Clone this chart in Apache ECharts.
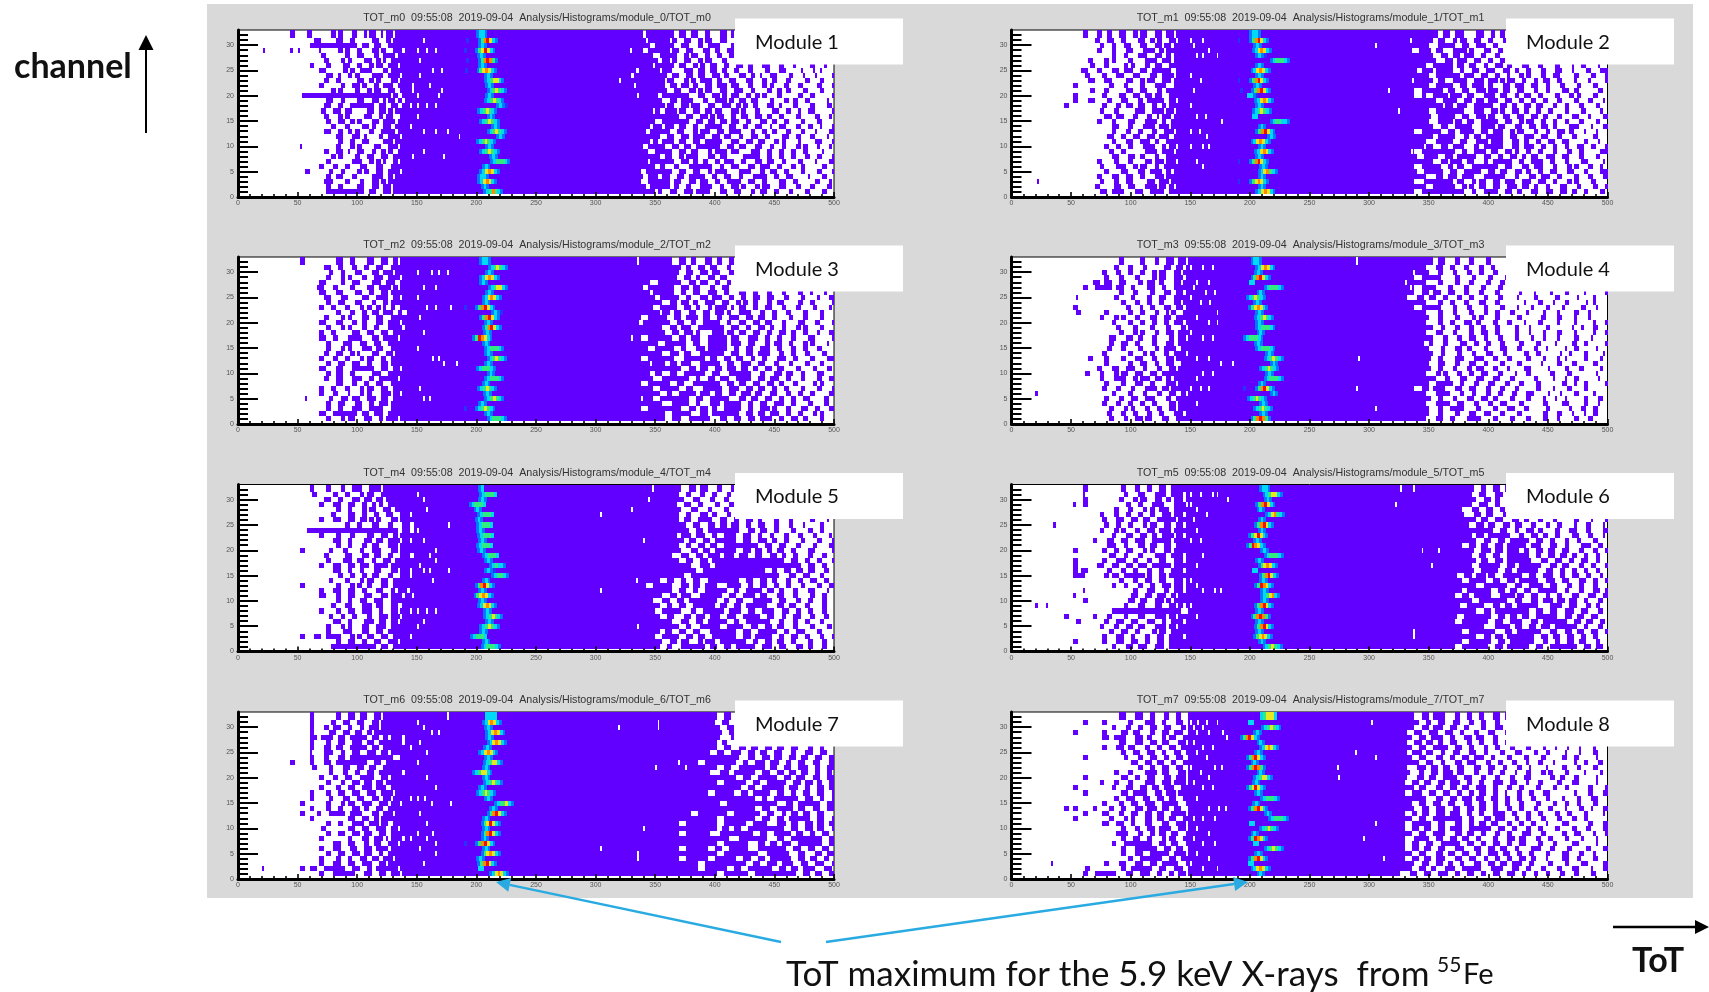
<!DOCTYPE html>
<html>
<head>
<meta charset="utf-8">
<style>
html,body{margin:0;padding:0;background:#fff}
#chart,#notes{position:absolute;left:0;top:0;width:1709px;height:992px}
#chart{filter:blur(.55px)}
</style>
<script src="https://cdn.jsdelivr.net/npm/echarts@6/dist/echarts.min.js"></script>
</head>
<body>
<div id="chart"></div>
<div id="notes"></div>
<script>
// occupancy, rows listed channel 32 down to channel 1
// Left: hex digits from ToT 44, Right: hex digits from ToT 320, each digit is 4 bins of 2 ToT
var module1Left = ['c1806c3172eff','00381c6038dff','00fffff39c7ff','90080d8c3b1ef','0006018e19f7f','000306c1cd3ff','00c1838c6e7bf','000e0367c1bff','0001c8d83e7df','0003180e6c3bf','000c063b19e7e','00006c18dc73e','07ffffffffd9f','0001c60e3976f','00038c7fe739d','000639c0e76ff','00030d81c6e3f','00018e6c39f7f','00006183b1cfd','00038cd863f7f','00001c39067df','00000c6381eff','0800186c1c7bf','00031c8e3367f','00006c18e39fe','0001803c6d1bf','000c31870e3ff','0300c60d8e7df','00019c303e6ff','0003c1863b7ff','00018c0e39dff','0001fffe71dff'];
var module1Right = ['ffdffe738c39','ffeffb1c6e38','fff9fe3867c1','ffcffb8e1cc7','fffc7f1b8c63','ffff3b1c6e18','fffdfe71b38c730e1840c2103','feffbc1e7398c3061c0848102','fbfff38e71cc3991c18420610','ffffee1b3e63870cc3030c084','fdffe7398e79c30d86181860','fffff1c76e38f18333060c108','ffff3ff871d9c66c3018c0420','ffffc73e18fb39c18663010c2','ffffee3bc71e6cc39060c1841','fffd9f71cee1d860e311c0620','ffffff8e3b719c7318303080c','fffe3ff8e739c61cc60c18108','fffbde718fe38c711c3188410','ffe7f8e1bc73e18cc30c20c06','ffff8e39f1ce31c60e30c1081','fffb3e71cfe1c7386c1038420','ffcfe39cffc738718c3610830','fff1fc7386f9c1e318c604108','ffff9c6f87380fe318c31860','fff7fe3998cf18738c1820c10','fffe6187fe31c39e30cc06081','ff9ffc71c6f83e19c60c18410','ffcf38e7f18e30fc638106084','ff8ff9c738c7e38c1c603081','ffe7f98c3e31d86e1c30c1840','fffec71efc38e19c6183060c8'];
var module1Peaks = [[201,'2332'],[193,'10002467532'],[203,'232'],[191,'10002457532'],[202,'232'],[193,'10002467642'],[203,'232'],[192,'10002456532'],[208,'232'],[208,'2345532'],[209,'232'],[210,'2345432'],[209,'232'],[208,'2345432'],[218,'2321'],[202,'2345432'],[210,'232'],[204,'2345432'],[214,'232'],[210,'2345432'],[218,'232'],[201,'2345432'],[209,'232'],[204,'2345432'],[212,'232'],[213,'2344432'],[206,'232'],[204,'2356532'],[202,'2332'],[202,'2356532'],[205,'232'],[207,'2346432']];
var module1Specks = [[21,29,0],[320,23,8],[329,29,8],[335,20,8],[155,31,8],[150,29,8],[158,29,8],[165,29,8],[152,27,8],[163,25,8],[170,25,8],[152,24,8],[160,22,8],[170,21,8],[150,20,8],[168,20,8],[150,18,8],[158,18,8],[165,18,8],[150,16,8],[155,13,8],[165,13,8],[175,13,8],[185,12,8],[155,9,8],[172,8,8]];

var module2Left = ['00c331c6e39df','000638c1cd8ef','00018c70e3bbf','00030c387cdff','00000c61e39bf','00306c183e7bf','0018606c338ff','01c30e78e7f9f','0060c3870e7df','00387038dc7bf','0c001860c3e3f','00186038e19ff','0c00c1c73b8ff','0c3830e19fcef','c000c339c66ff','00018603c7ddf','00007386197bf','00030c1c3e67f','00000e187cf7f','00000c31863df','000038c71cf3f','00000c38f31ff','000063187c6ef','000018c03e7df','00000e1cc31ff','000306183bdef','000183c6e33ff','000060e1cf9bf','00030e38c3dff','000186381cf7f','0006071c3eedf','0001cf838fcff'];
var module2Right = ['ffffe73c1c66','feff9c6e38c3','fffe1fc71e30','ff1f387ec38c','ffff8e73c618','ffffc39e38c6','fffc7f9ce31cc3860c1182040','ffcfbf8c71e398c30e1061c08','fffe3ff3c71886c31c0c18410','ffff9c7e3cf6e319c6082060','fffe3f8e7cc39e38c3060c084','ff8ff9c71ef38e18c1cc03081','ff8c7ef9c3e719c60c360c108','ffffc7e39cf1c631860c30841','fffffb9e3fc731ce18c30610','fffe3ffc3c76398c60c181042','ffff1fc71ee38e39861c20c30','fffe1fb9c7f1c6e318c306108','ffff8e3f87ee1c73983c10c84','ff8ff1cfc73c6e18c730840c1','ffff9fc339fc71e386180c306','fffc3f8e1f7c398c71c0c2184','fffb8e7c33fc39e318c718408','ff8fffc63e71d8c6186301c82','ffc7e39fe38c7338f1c306104','ffff8ef9c33fc63e30c1c0841','ff8ff19c7ff1c39e186c31082','ffc7f8e3f8e71cc63870c1c10','fffc39e7c3fe1873c60c30c18','ff87ff9c6e39e3c7186c18308','fffc7fc6ce38f398c3860c610','ff8ffffc63f1cc38e398c1840'];
var module2Peaks = [[201,'2332'],[191,'10002467532'],[204,'232'],[203,'2356532'],[206,'2321'],[218,'2344432'],[206,'232'],[202,'2356532'],[206,'232'],[191,'10002467532'],[204,'232'],[193,'10002467532'],[199,'3321'],[205,'2356532'],[206,'232'],[203,'2345432'],[203,'33'],[218,'2344332'],[208,'232'],[206,'2467532'],[216,'232'],[202,'2356532'],[208,'232'],[205,'2356532'],[206,'232'],[191,'10002467532'],[209,'232'],[208,'2356432'],[208,'232'],[191,'10002456532'],[208,'232'],[206,'2356532']];
var module2Specks = [[305,30,8],[316,21,8],[324,17,8],[336,23,8],[21,3,0],[335,9,8],[340,9,8],[172,28,8],[176,15,8],[150,31,8],[160,31,8],[152,30,8],[165,29,8],[155,28,8],[160,28,8],[150,24,8],[158,23,8],[152,21,8],[150,18,8],[155,16,8],[162,16,8],[150,13,8],[157,13,8],[163,12,8],[150,10,8],[160,10,8],[165,10,8],[155,7,8],[160,6,8]];

var module3Left = ['0c001c60e39bf','00038c318e3ff','0000c61c39eff','000186c31e7df','000e06383cf3f','001c3060e7dbf','000e1c1c63bff','000387038f9df','00018e1c31bff','000c6186cd33f','0000186339e67','000306c38e3ff','000e1c330e7df','000186c3187ef','000c6038e39ff','000e30fc39fbf','000183c71c7ff','000186c3ce3ff','00031c6838eff','000c3186e33ff','00018e38c3bff','000e1c3fe39df','00019c603c7ff','00031c3c67fbf','00001c318e3ff','000c6186e39ff','000c3086c3ddf','0200c738f39ff','00018e1c67bff','00018c3c7e3ff','000e3ff39e7ff','000186e1c6fbf'];
var module3Right = ['fffffc730e63','ffffffcc7386','ffffff8e39c3','ffffff1cc738','fff8ffc738c6','ffcffe39c31c','fffbfe31c78c38c30c1882040','fffe7f8c39e318e3860c10c08','ffffc7398f1c6cc33818c0420','fffc7f1cc6f938c70c3060841','ffffb9c71cf63e18c3060c108','ff8ff1cf9c63c738c1860c304','ff3ff8e31fc638e70c1c30410','ffffc73c7ff1c6398c360c082','ffffe39ec1f738e31cc610c08','ff8ffc73c7f9c3c630c1c0610','ffff1ff1c7f9e3867186c1041','fff1fe30f7f8c71e30c6180c8','ffffc79c3ff1c73e18c306084','ff8ffe1ff38e718c3c60c1c10','ffffe73c3fc71e3861830c086','ffffffc738e79cc7383061840','fff9c71ff1c3fe18738c1c108','fffc3ff8c73c7e39e30c18c04','ff8ff8e1ffc738e398606c0c1','fffc7f8e1fe3c738c60c186c0','ffff8c7f3ce39e71c318c0c60','fffc7ff8e3fc39c718c7030c1','ffffc3f8c3cfe31c78c183080','ff8fffc7398fe31ec30e30c18','ffffe3fc39ffc739e3186c308','ffffe3c7fc38e39f18e60c108'];
var module3Peaks = [[204,'2332'],[211,'2345432'],[209,'232'],[204,'2356532'],[204,'232'],[211,'2345532'],[209,'232'],[206,'2356532'],[206,'232'],[191,'10002467532'],[214,'2321'],[204,'2467532'],[208,'232'],[206,'2467532'],[207,'232'],[198,'2476532'],[206,'232'],[208,'2344432'],[208,'232'],[210,'2345432'],[208,'232'],[201,'2344432'],[210,'232'],[208,'2344432'],[206,'232'],[202,'2345432'],[207,'232'],[208,'2345432'],[203,'232'],[191,'10002345432'],[208,'232'],[210,'2344432']];
var module3Specks = [[330,17,8],[335,32,8],[346,12,8],[338,5,8],[175,30,8],[178,23,8],[172,12,8],[183,12,8],[150,30,8],[162,30,8],[168,30,8],[155,27,8],[165,27,8],[150,25,8],[158,23,8],[165,23,8],[152,21,8],[155,18,8],[150,15,8],[163,13,8],[168,13,8],[155,5,8],[160,5,8],[152,7,8]];

var module4Left = ['00000180c31ce','000006186039d','0000c318c6e3b','0000618306e3d','000e71c19cc3b','00c7f38c1c63f','000001860c39d','0400060c18e3f','000000c318c3b','0c0000308c39d','06006018c3163','000186c30e39f','00000c18c633d','000003060c186','00000186c31cf','00001c39860ce','000018e3061cf','000030c1833e7','0000c0186c33e','003060c3861df','00006018e31c7','00030e3c618ef','006186e38e7ff','000187c6f39bf','000060c38c1ef','0000c30c3e77f','00000c18618e6','0000618e3c19f','0000c318c60ef','0000186c318ef','000030c618c3d','00001863b871f'];
var module4Right = ['ffff9c30c180','fffc38c30c60','fffe18618c30','ff8ff03060c1','fffc1830c186','ff8fc183060c','ff8e71c30c18041020c080410','fc39c618c30c08180c0408102','fffc18c30e18010610c04820','ff8ff06183060820c10184008','fffc1860c3186081040c20104','fffe18306c180c0306082008','fffc18c39830c106040808402','ffff8c30c6181840c0110c004','fffc3860c71818410608084','ffff8618e30c1821040c10208','fff9860e3186060c0818c0402','fffe0c3983070c18808c04010','ffff8c1861c3018c0220c0806','ffff183c3c30c0c10480c1004','fffe1c30e3060c0206180c208','ffff18619c3081c040c301008','fffc3618c70c10c0306004082','ffffc30e1c386018108c02040','fffe3f8c30e1860c0188c0410','ff8e7c38e186180c1060c0204','fffc3f0c618c30e0420c08102','ffff1861c73060c10880c3008','fffc3f1c30c7060181c0c2040','fffe18fc1830e180c0218c041','fffe1830e3860c0186108c020','fffc38c1f83060c1840c30204'];
var module4Peaks = [[202,'2332'],[206,'2356532'],[205,'232'],[202,'2467532'],[201,'33'],[213,'2344432'],[207,'232'],[198,'2345432'],[204,'232'],[200,'2456532'],[206,'232'],[205,'2345432'],[206,'232'],[206,'2344432'],[207,'232'],[196,'2344432'],[205,'232'],[206,'2344432'],[214,'232'],[213,'2345432'],[218,'232'],[209,'2345432'],[214,'232'],[213,'2344432'],[208,'232'],[196,'10002467532'],[218,'232'],[199,'2345432'],[209,'232'],[204,'2345432'],[209,'232'],[202,'2467642']];
var module4Specks = [[20,6,0],[289,32,8],[291,13,8],[289,7,8],[305,3,8],[337,30,8],[330,28,8],[334,27,8],[175,12,8],[185,12,8],[150,31,8],[160,31,8],[168,31,8],[155,28,8],[165,28,8],[152,27,8],[162,26,8],[170,26,8],[150,25,8],[158,24,8],[166,24,8],[172,22,8],[155,21,8],[165,20,8],[172,20,8],[150,18,8],[160,17,8],[168,17,8],[155,13,8],[165,13,8],[160,10,8],[168,10,8],[155,9,8],[150,7,8],[158,7,8],[165,7,8],[155,4,8]];

var module5Left = ['00c1863c7dfff','00603186e3fff','00038c39cefff','000c38e3367ff','000018c371cff','000060e318e3d','000c38e76c3bf','0000018c3861c','01fffffffff9c','000c1860e39bf','000038c1ce7dd','000018c3387bf','0c00c3063c3bf','000301c39c63c','000183ce31cff','000c38e79fbff','000038c61c3bd','00000c633863d','0000c186e39ff','0c00186cc39ff','000c38e30e37b','000e18e1c3bee','000018c71e3ff','000061c3ce39f','000c18e3c63bd','0000c630c7bdf','000038c1e73bf','000186c38f3ff','000183c38e7ff','0c39f86ce39fd','000018e31c7bf','00007ffff39ff'];
var module5Right = ['ffffffc73861','ffffff8c3186','ffffffe1c30c','ffffff1c60c3','ffffffc3860c','ffffff8c3986','ffffff9c7e38c7306180c1040','fffffff1c739c63861840c108','fffffff8e7ffc39c60c18c208','ffffff3cf18f8e3186186084','ffffffe71cff8e3cc60c18410','ffffff8c738fffc71c3060c08','ffffffc39cff8e7338c1c0410','fffffc38e7cf3c71cc61860c0','ffffff8e39fffffff8e318608','fffffffc3cfffffffff1c630','ffffffff1ffffff8c739c3081','ffffffe3ffffffffe1c70c108','ffff8e31c7ffc71cc318e3040','ffe3fc39cf87e31c630c18c04','fffffc718ff8c7f39861c1082','ffffc73c3fe38f9c3860c6108','fffc38e7ff8c70ff1c3186041','ffff8c71ff38e7fc39c306082','fffe3fc31ff3e38f8e31860c1','ffff8e1cf3c78fe38c70c3084','fffffc38e7f8c7fe18630c108','ffffff8c3fc7f1c73860c1842','ffff9c71c3ff8e3fc63c18108','fffe3f8e71ff8e7f18e30c604','ffffc7386f3ff8c738c1860c1','ffff8c3ff38e7f8f1c3986082'];
var module5Peaks = [[203,'23'],[204,'234443'],[203,'232'],[195,'234443'],[199,'232'],[202,'234443'],[200,'232'],[201,'234443'],[201,'232'],[202,'234443'],[203,'232'],[201,'234443'],[202,'232'],[206,'234443'],[208,'232'],[212,'234332'],[208,'2321'],[214,'234432'],[206,'232'],[200,'2467532'],[203,'232'],[199,'2456532'],[203,'232'],[202,'2356532'],[207,'232'],[207,'2345432'],[209,'232'],[204,'2345432'],[204,'232'],[196,'234443'],[206,'232'],[205,'2344432']];
var module5Specks = [[176,25,8],[176,16,8],[304,27,8],[304,12,8],[344,30,8],[330,28,8],[347,32,8],[335,5,8],[334,14,8],[340,22,8],[150,31,8],[155,30,8],[158,28,8],[150,24,8],[155,22,8],[165,20,8],[160,19,8],[165,18,8],[152,17,8],[155,16,8],[160,16,8],[163,14,8],[150,8,8],[158,8,8],[165,8,8],[155,6,8],[150,5,8]];

var module6Left = ['00c000c318e7f','00800061c3e7d','00c00186e39bd','08c0003187c3e','000006186cf3f','000186318c7bd','0000c38e71fef','000063186e39d','000186c31cfbf','00000c38e67dd','000c38e3c7fbf','00003c61ce39f','0c00c6386c3bf','00001c6183e7d','0c00c3c618e3d','0c038e39e7fbf','0dc030c618c7d','0f806e7fd8eff','0000018638e3d','00000c618c7bd','008000061c33d','0800000e39e6f','00c0001ce3dbf','00000061c38ed','00000fffffff8','c00c3061c3eef','0600638e1c67d','00018639c3eef','000018e306e7f','0000c38c31cfd','0c00c38e31cff','00000c39e3cff'];
var module6Right = ['ffffffffc639','ffffffff8e1c','ffffffffe398','ffffffff8f18','fffffff871c6','fffffffc39c3','ffffffffe71c3986180c10420','ffffffff1ce39c30c6086082','ffffffffffc718e60c3860c10','ffffffff9cff86398c1c30841','ffffffffe38e7f8e30c60c108','fffffff8e71cff3c38c1e3061','ffffffffc79cf98e71c30c608','ffffffff8e38ff8c7398c6082','ffffffffe71cffc38e31c6108','ffffffff8ff8e7fc39c31860','ffffffffc7f1cff8e318c6104','ffffffe39ee3fc71e31c61082','fffffff8fe38e7f8f1c38c610','ffffffffe3ff1c7e38630c184','fffffff9ff8e71c7f8c30e708','ffffffc73f87ee38c61c38c10','ffffffff8fff1c39e738c3061','fffffff1fc39cff83e3866082','ffffffffe39fff8e38f1c3086','ffffffe3ff8e738ff8e71c308','ffffffc7ff1c7c39ff8e71860','fffffffffc1f9c73cff8c3184','fffffff8ffe1cffc38e71c610','ffffffffe39cffe39c718c308','fffffff8ff8e7fe18c7386182','ffffffc7ff1cff8e3ff8e7308'];
var module6Peaks = [[209,'2332'],[212,'2345532'],[213,'232'],[206,'2467532'],[207,'232'],[214,'2356432'],[208,'232'],[205,'2467532'],[208,'232'],[200,'2457532'],[204,'232'],[198,'2476532'],[210,'232'],[213,'2344432'],[206,'232'],[208,'2456532'],[203,'33'],[209,'2467532'],[209,'232'],[205,'2476532'],[210,'232'],[210,'2345632'],[210,'232'],[205,'2467532'],[206,'232'],[202,'2467642'],[206,'232'],[205,'2467532'],[206,'232'],[204,'2456532'],[208,'232'],[212,'2345432']];
var module6Specks = [[326,32,8],[337,32,8],[322,29,8],[344,20,8],[337,4,8],[337,3,8],[20,9,0],[29,9,0],[35,25,0],[168,31,8],[172,31,8],[181,30,8],[170,12,8],[175,12,8],[352,17,8],[358,20,8],[150,31,8],[158,31,8],[150,29,8],[155,28,8],[163,27,8],[152,26,8],[155,24,8],[150,22,8],[158,22,8],[160,19,8],[155,17,8],[150,14,8],[155,13,8],[160,12,8],[150,9,8],[155,7,8]];

var module7Left = ['00c018e71dfff','00c0638e3bfff','00c338c67bfff','00c0e39cdffff','00e7ce7f39bef','00c18e3ce7fef','00c39c7f39ffd','0083c638f3bff','00c30e7fffe3f','c0c39fff1cfff','0060c38e71fff','0000c318e7fef','000c31c7e3bff','00018639cefff','000c18e3cf3ff','00c18e38f3eff','00c0c38e39dfd','0c0186e3c7bdf','00c18c398e7ff','0c18fe7c39eff','00c000e39bfff','00018c3e7b9ff','000600e38f3bf','00018e39c73ff','000c00c39ebed','000038e19c7bf','000c3871cfbff','00018e39c67ff','000c18c739eff','000c38e3c77ff','0ce3fe38cffbf','000c3fe1c73df'];
var module7Right = ['ffffffffff8e','ffffffffff1c','ffffffffffc7','ffffffffffe3','ffffffffffc1','ffffffffff98','ffffffffff8e39c738e18c308','fffffffffc71e39c70c38e18','ffffffffffffc38e71ce38c61','ffffffff8fff8c79e31c70c38','ffffffffff8e3ff9c71e31c61','fffffffffc3cff8e39ce318c3','ffffffffffff8e3fc73c71e38','ffffffffff8ff8e3fc7398e31','ffffffffffffe38ff9e31ce38','fffffffff8ff1cfe38c71c618','ffffffffffffff8c7fe38c739','ffffffffffc7ffffc39ff1c61','ffffffffffffff8e3f9c71e38','fffffffc7ff8ffe38ce71c39','ffffffffff8fff8e39ff1c738','ffffff8fff8ff8fc3ce39ce30','ffffffffff9ce3fff8e39c718','ffffff8ffc3fff1c7f38c71c3','fffffffffffc3ffc38fff8e38','ffffffffff8ffc39cf1ff8c71','ffffff8ff8e3fc3ffc71c7383','ffffffffff8fffc3fe1c39e38','ffffff8ff8ff8e39ff1ce31c6','ffffffff8ffff8e3cf8e3c718','ffffffff8ff8e3ff1ce7c39c6','ffffffffff8ffc7fffc738e31'];
var module7Peaks = [[209,'3333'],[206,'2356532'],[208,'232'],[209,'2356532'],[209,'232'],[210,'2356532'],[207,'232'],[203,'2356532'],[208,'232'],[207,'2345532'],[206,'232'],[198,'2345532'],[206,'232'],[207,'2345432'],[203,'232'],[201,'2345432'],[208,'232'],[216,'2344532'],[212,'232'],[210,'2467532'],[206,'232'],[205,'2457532'],[206,'232'],[205,'2467532'],[205,'232'],[191,'10002467532'],[206,'232'],[205,'2456532'],[201,'232'],[202,'2467532'],[203,'33'],[212,'2356532']];
var module7Specks = [[319,30,8],[352,31,8],[352,30,8],[340,10,8],[304,6,8],[335,5,8],[335,4,8],[350,22,8],[369,23,8],[375,22,8],[20,2,0],[175,32,8],[178,15,8],[163,9,8],[150,31,8],[155,30,8],[162,29,8],[168,29,8],[152,27,8],[158,25,8],[150,23,8],[158,20,8],[165,18,8],[150,16,8],[156,16,8],[162,15,8],[152,13,8],[158,11,8],[150,9,8],[158,8,8],[165,7,8],[152,6,8],[165,5,8],[155,3,8]];

var module8Left = ['000001c38c318','00c0c0183c61c','00000c318e386','0c00c0e70c73c','0000e7c3986e3','000001c38e70e','0000c39c318e7','000000c71c639','00c000618e31c','0000000e39c63','000000018c71c','000006183e70e','00c000e31c39e','000186183c7be','0c000c38e73c7','00c000e7e39ef','0000063c71ce3','0000c18e3c7f1','cc0c18c39e738','00c0e18e39c7e','0c00186c39ce3','0000e38c3871e','000000c31cf8e','000003e18ce71','000000c7186e3','00000c7ff8e71','000000c3fe39c','000000c38ff3e','00000018ff8e7','000061c38e7f1','006000cff8e3c','00c7fc38f18ce'];
var module8Right = ['ff8e7c318c39','ffe31c70c618','ff8e78e3061c','fc71e38c30e1','ff1cf8c39c30','fc7398e18c31','ff1c7e38c31860c1084208100','fcf38c70e3061c18c0820c041','ff1c38c73c60c183018c04081','ffe38c39e18c30861008c3020','fc3ce71c38e30c4081860c108','fe18e79c30c610c360c081042','fc39c7e3861861c0330c04108','f8e71cf18c3c7086061c04082','ff9c38e71e30c60c18c030410','f8f1c718ce310c61c00830c20','fffc38e79c718c30c1061c084','ff1c71c38e31860c18c60c081','ff8e3c71ce30c618608310c04','f8ce3cf18c3e30c60c60c0821','ff1c7ff8c39e18c30618c0204','f8ff1c38ce70c63081c030c10','f8e71cf8ff8e30c60c1860c08','ff1c7c39c618c3c3018e08410','f87e38e71830e70c60c104108','f8e38ff1c638c706181c04082','f8e71c3c38e7183c306060c10','ff1c39c718f38c60c1c308041','f8e73c38e318c73081c60c102','ff8e398c38e73c6060c1c0c10','ff1cc3c7f87c38c3061c10c08','e1c71e31c638e318c30c18204'];
var module8Peaks = [[210,'345553'],[200,'33'],[211,'2345432'],[204,'232'],[193,'2467532'],[207,'232'],[209,'2356532'],[205,'232'],[198,'2467532'],[202,'232'],[198,'2467642'],[207,'232'],[204,'2345532'],[203,'232'],[198,'2457532'],[205,'232'],[210,'2344432'],[203,'232'],[200,'2467532'],[213,'232'],[217,'2344432'],[201,'33'],[209,'2345432'],[202,'232'],[200,'2476532'],[204,'33'],[213,'2345432'],[205,'232'],[200,'2467532'],[200,'33'],[202,'2356532'],[207,'232']];
var module8Specks = [[302,31,8],[288,25,8],[305,24,8],[273,22,8],[274,20,8],[305,11,8],[295,8,8],[312,4,8],[33,3,0],[177,29,8],[172,31,8],[180,28,8],[170,22,8],[176,22,8],[179,14,8],[173,14,8],[150,31,8],[156,31,8],[163,31,8],[152,30,8],[160,30,8],[155,29,8],[165,29,8],[152,27,8],[160,26,8],[168,26,8],[155,25,8],[163,24,8],[150,22,8],[158,21,8],[165,20,8],[152,19,8],[160,18,8],[168,18,8],[155,16,8],[165,14,8],[152,12,8],[160,12,8],[170,12,8],[155,10,8],[165,9,8],[152,8,8],[160,7,8],[170,7,8],[155,5,8],[165,4,8],[150,3,8],[160,2,8],[172,2,8]];

var moduleLeft = [module1Left, module2Left, module3Left, module4Left, module5Left, module6Left, module7Left, module8Left];
var moduleRight = [module1Right, module2Right, module3Right, module4Right, module5Right, module6Right, module7Right, module8Right];
var modulePeaks = [module1Peaks, module2Peaks, module3Peaks, module4Peaks, module5Peaks, module6Peaks, module7Peaks, module8Peaks];
var moduleSpecks = [module1Specks, module2Specks, module3Specks, module4Specks, module5Specks, module6Specks, module7Specks, module8Specks];

var moduleNames = ['Module 1', 'Module 2', 'Module 3', 'Module 4', 'Module 5', 'Module 6', 'Module 7', 'Module 8'];
var panelTitles = [
	'TOT_m0  09:55:08  2019-09-04  Analysis/Histograms/module_0/TOT_m0',
	'TOT_m1  09:55:08  2019-09-04  Analysis/Histograms/module_1/TOT_m1',
	'TOT_m2  09:55:08  2019-09-04  Analysis/Histograms/module_2/TOT_m2',
	'TOT_m3  09:55:08  2019-09-04  Analysis/Histograms/module_3/TOT_m3',
	'TOT_m4  09:55:08  2019-09-04  Analysis/Histograms/module_4/TOT_m4',
	'TOT_m5  09:55:08  2019-09-04  Analysis/Histograms/module_5/TOT_m5',
	'TOT_m6  09:55:08  2019-09-04  Analysis/Histograms/module_6/TOT_m6',
	'TOT_m7  09:55:08  2019-09-04  Analysis/Histograms/module_7/TOT_m7'
];
var channelMinorTicks = [1,2,3,4,6,7,8,9,11,12,13,14,16,17,18,19,21,22,23,24,26,27,28,29,31,32];
var channelMajorTicks = [0,5,10,15,20,25,30];
// 0 purple, 1-7 blue to red, 8 white
var levelColors = ['#6200ff','#2a30ff','#0078ff','#00d8f8','#30ec80','#e8e820','#ff8c00','#ee1010','#ffffff'];

var PURPLE = 0, WHITE = 8, BIN = 2, PEAK_CELL = 2.4, PEAK_SHIFT = -1.4;
var LEFT_FROM = 22, RIGHT_FROM = 160, BINS = 250;
var colLefts = [238, 1011.5], rowTops = [30, 257, 484.5, 712];
var plotW = 596, plotH = 167;

function rowBottom(row){ return row - 0.5; }
function rowTop(row){ return row === 32 ? 33 : row + 0.5; }

// expand the hex rows into runs of filled bins
function occupancyRuns(left, right, row){
	var bins = [], i, runs = [], start = -1;
	for (i = 0; i < BINS; i++) bins.push(i >= LEFT_FROM && i < RIGHT_FROM);
	for (i = 0; i < 52; i++) {
		var lc = i >> 2 < left.length ? parseInt(left[i >> 2], 16) : 15;
		bins[LEFT_FROM + i] = !!(lc & (8 >> (i % 4)));
	}
	for (i = 0; i < BINS - RIGHT_FROM; i++) {
		var rc = i >> 2 < right.length ? parseInt(right[i >> 2], 16) : 0;
		bins[RIGHT_FROM + i] = !!(rc & (8 >> (i % 4)));
	}
	for (i = 0; i <= BINS; i++) {
		if (i < BINS && bins[i]) { if (start < 0) start = i; }
		else if (start >= 0) {
			runs.push([start * BIN, i * BIN, rowBottom(row), rowTop(row), PURPLE]);
			start = -1;
		}
	}
	return runs;
}

function moduleCells(m){
	var cells = [], r, c;
	for (r = 0; r < 32; r++) {
		cells = cells.concat(occupancyRuns(moduleLeft[m][r], moduleRight[m][r], 32 - r));
	}
	moduleSpecks[m].forEach(function (s) {
		var w = s[2] === WHITE ? 1.6 : BIN;
		cells.push([s[0], s[0] + w, rowBottom(s[1]), rowTop(s[1]), s[2]]);
	});
	for (r = 0; r < 32; r++) {
		var p = modulePeaks[m][r];
		for (c = 0; c < p[1].length; c++) {
			var lv = +p[1][c], x0 = p[0] + PEAK_SHIFT + c * PEAK_CELL;
			if (lv) cells.push([x0, x0 + PEAK_CELL, rowBottom(32 - r), rowTop(32 - r), lv]);
		}
	}
	return cells;
}

function renderCell(params, api){
	var a = api.coord([api.value(0), api.value(3)]);
	var b = api.coord([api.value(1), api.value(2)]);
	var x = Math.round(a[0]), y = Math.round(a[1]);
	return {
		type: 'rect',
		shape: {x: x, y: y, width: Math.round(b[0]) - x, height: Math.round(b[1]) - y},
		style: {fill: levelColors[api.value(4)], stroke: null}
	};
}

var grids = [], xAxes = [], yAxes = [], series = [], titles = [], gfx = [], notes = [];
var blackLine = {color: '#000', width: 1.6};
var tickLabel = {fontSize: 7, color: '#555', fontFamily: 'Liberation Sans'};

gfx.push({type: 'rect', z: -1, shape: {x: 207, y: 4, width: 1486, height: 894}, style: {fill: '#d9d9d9'}});

for (var m = 0; m < 8; m++) {
	var col = m % 2, row = m >> 1;
	var gx = colLefts[col], gy = rowTops[row];
	grids.push({left: gx, top: gy, width: plotW, height: plotH, show: true, backgroundColor: '#fff', borderColor: '#000', borderWidth: 1});
	xAxes.push({
		type: 'value', gridIndex: m, min: 0, max: 500, interval: 50, z: 10,
		axisLine: {onZero: false, lineStyle: {color: '#000', width: 3}},
		axisTick: {inside: true, length: 5, lineStyle: blackLine},
		minorTick: {show: true, splitNumber: 5, length: 3, lineStyle: blackLine},
		axisLabel: Object.assign({margin: 3, showMinLabel: true, showMaxLabel: true}, tickLabel),
		splitLine: {show: false}
	});
	yAxes.push({
		type: 'value', gridIndex: m, min: 0, max: 33, position: 'left', z: 10,
		axisLine: {onZero: false, lineStyle: {color: '#000', width: 3}},
		axisTick: {inside: true, length: 10, customValues: channelMinorTicks, lineStyle: {color: '#000', width: 2}},
		axisLabel: {show: false},
		splitLine: {show: false}
	});
	yAxes.push({
		type: 'value', gridIndex: m, min: 0, max: 33, position: 'left', z: 10,
		axisLine: {show: false},
		axisTick: {inside: true, length: 20, customValues: channelMajorTicks, lineStyle: {color: '#000', width: 2}},
		axisLabel: Object.assign({margin: 4, customValues: channelMajorTicks}, tickLabel),
		splitLine: {show: false}
	});
	series.push({
		type: 'custom', xAxisIndex: m, yAxisIndex: m * 2, coordinateSystem: 'cartesian2d',
		clip: true, silent: true, animation: false, progressive: 0,
		encode: {x: [0, 1], y: [2, 3]},
		renderItem: renderCell, data: moduleCells(m)
	});
	titles.push({
		text: panelTitles[m], left: gx + plotW / 2 - 4, top: gy - 22, textAlign: 'center',
		textStyle: {fontSize: 10.7, fontWeight: 'normal', color: '#333', fontFamily: 'Liberation Sans'}
	});
	var bx = col ? 1506 : 735, by = gy - 11.5;
	notes.push({type: 'rect', z: 100, shape: {x: bx, y: by, width: 168, height: 46}, style: {fill: '#fff'}});
	notes.push({type: 'text', z: 101, x: bx + 20, y: by + 24, style: {text: moduleNames[m], fill: '#111', font: '20px Lato', verticalAlign: 'middle'}});
}

function arrow(x1, y1, x2, y2, color, width, head){
	var a = Math.atan2(y2 - y1, x2 - x1), ca = Math.cos(a), sa = Math.sin(a);
	var bx = x2 - head * ca, by = y2 - head * sa, hw = head * 0.5;
	notes.push({type: 'line', z: 50, shape: {x1: x1, y1: y1, x2: bx, y2: by}, style: {stroke: color, lineWidth: width}});
	notes.push({type: 'polygon', z: 50, shape: {points: [[x2, y2], [bx - hw * sa, by + hw * ca], [bx + hw * sa, by - hw * ca]]}, style: {fill: color}});
}
arrow(781, 942, 496, 882, '#29abe2', 2.4, 14);
arrow(826, 942, 1248, 882, '#29abe2', 2.4, 14);
arrow(146, 133, 146, 35, '#000', 2, 15);
arrow(1613, 927, 1709, 927, '#000', 2.4, 14);

var annotationFont = 'Lato';
notes.push({type: 'text', x: 14, y: 67, style: {text: 'channel', fill: '#111', font: 'bold 34px ' + annotationFont, verticalAlign: 'middle'}});
notes.push({type: 'text', x: 1632, y: 961, style: {text: 'ToT', fill: '#111', font: 'bold 34px ' + annotationFont, verticalAlign: 'middle'}});
notes.push({type: 'text', x: 786, y: 975, style: {text: 'ToT maximum for the 5.9 keV X-rays  from ', fill: '#111', font: '35px ' + annotationFont, verticalAlign: 'middle'}});
notes.push({type: 'text', x: 1437, y: 965, style: {text: '55', fill: '#111', font: '21px ' + annotationFont, verticalAlign: 'middle'}});
notes.push({type: 'text', x: 1463, y: 975, style: {text: 'Fe', fill: '#111', font: '29px ' + annotationFont, verticalAlign: 'middle'}});

var chart = echarts.init(document.getElementById('chart'), null, {renderer: 'canvas'});
chart.setOption({
	animation: false,
	backgroundColor: '#fff',
	title: titles,
	grid: grids,
	xAxis: xAxes,
	yAxis: yAxes,
	series: series,
	graphic: {elements: gfx}
});
// labels and arrows stay sharp, so they sit on their own layer above the blurred plots
var noteChart = echarts.init(document.getElementById('notes'), null, {renderer: 'canvas'});
noteChart.setOption({animation: false, graphic: {elements: notes}});
</script>
</body>
</html>
